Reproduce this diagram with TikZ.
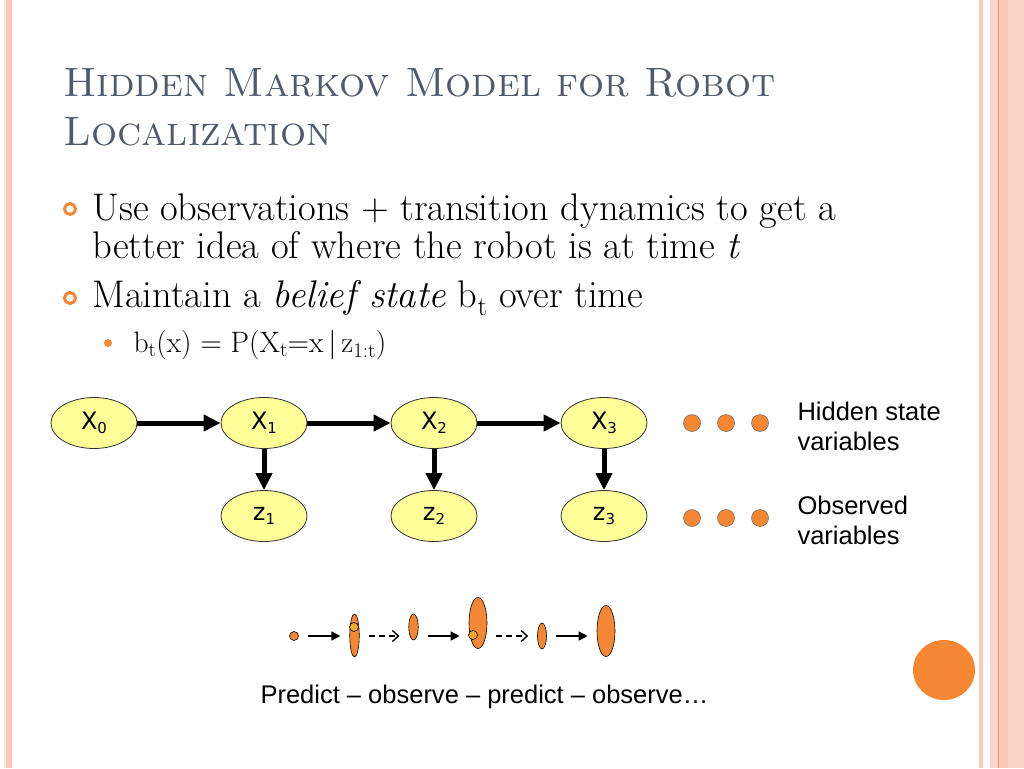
\documentclass[tikz,border=0pt]{standalone}
\usepackage{fontspec}
\newfontfamily\arial{Liberation Sans}
\newfontfamily\verd{DejaVu Sans}
\usetikzlibrary{arrows.meta,shapes.geometric,positioning}

\definecolor{titlegray}{RGB}{80,90,106}
\definecolor{dotorange}{RGB}{245,134,52}
\definecolor{nodeyellow}{RGB}{255,255,153}
\definecolor{amber}{RGB}{242,168,40}
\definecolor{stripe}{RGB}{251,201,184}
\definecolor{stripedark}{RGB}{230,150,125}

\newcommand{\lowidx}[1]{\raisebox{-0.3ex}{\fontsize{15}{15}\selectfont #1}}

\begin{document}
\begin{tikzpicture}[x=1pt,y=-1pt,>={Triangle[length=17pt,width=16pt]},
    hid/.style={ellipse,draw=black!80,fill=nodeyellow,line width=0.8pt,
      minimum width=86pt,minimum height=51pt,inner sep=0pt,
      font=\verd\fontsize{24}{24}\selectfont},
    blob/.style={circle,fill=dotorange,draw=black!60,line width=0.5pt,
      minimum size=17pt,inner sep=0pt},
    ring/.style={circle,draw=dotorange,line width=3pt,minimum size=11pt,inner sep=0pt},
    lbl/.style={anchor=base west,font=\arial\fontsize{25.5}{25.5}\selectfont},
    body/.style={anchor=base west,font=\fontsize{38.5}{38.5}\selectfont},
    belief/.style={ellipse,fill=dotorange,draw=black,line width=0.6pt,inner sep=0pt},
    guess/.style={circle,fill=amber,draw=black,line width=0.6pt,minimum size=9pt,inner sep=0pt},
    seq/.style={line width=1.4pt,shorten <=9pt,shorten >=9pt},
    node distance=170pt]

  \useasboundingbox (0,0) rectangle (1024,768);
  \fill[white] (0,0) rectangle (1024,768);

  % side stripes
  \fill[stripe!50] (4,0) rectangle (6,768);
  \fill[stripe] (6,0) rectangle (12,768);
  \fill[stripe] (979,0) rectangle (983,768);
  \fill[stripe!80] (990,0) rectangle (1024,768);
  \fill[stripe] (998,0) rectangle (1008,768);
  \draw[stripedark,line width=1pt] (998,0) -- (998,768);

  % title
  \node[anchor=base west,text=titlegray,font=\fontsize{41}{41}\selectfont\scshape] (t_1) at (60,96) {Hidden Markov Model for Robot};
  \node[anchor=base west,text=titlegray,font=\fontsize{41}{41}\selectfont\scshape] (t_2) at (60,145) {Localization};

  % bullets
  \node[ring] (r_1) at (70,209) {};
  \node[body] (u_1) at (89,220) {Use observations + transition dynamics to get a};
  \node[body] (u_2) at (89,258) {better idea of where the robot is at time \textit{t}};
  \node[ring] (r_2) at (70,298) {};
  \node[body] (m_1) at (89,307) {Maintain a \textit{belief state} b\textsubscript{t} over time};
  \node[circle,fill=dotorange,minimum size=8pt,inner sep=0pt] (s_1) at (108,343) {};
  \node[anchor=base west,font=\fontsize{29.5}{29.5}\selectfont] (f_1) at (130,352) {b\textsubscript{t}(x) = P(X\textsubscript{t}=x\,|\,z\textsubscript{1:t})};

  % the chain
  \node[hid] (x_0) at (94,423) {X\lowidx{0}};
  \node[hid] (x_1) [right of=x_0] {X\lowidx{1}};
  \node[hid] (x_2) [right of=x_1] {X\lowidx{2}};
  \node[hid] (x_3) [right of=x_2] {X\lowidx{3}};
  \node[hid] (z_1) [below of=x_1,node distance=93pt] {z\lowidx{1}};
  \node[hid] (z_2) [below of=x_2,node distance=93pt] {z\lowidx{2}};
  \node[hid] (z_3) [below of=x_3,node distance=93pt] {z\lowidx{3}};

  \path[->,line width=5pt] (x_0) edge (x_1)
      (x_1) edge (x_2)
      (x_2) edge (x_3)
      (x_1) edge (z_1)
      (x_2) edge (z_2)
      (x_3) edge (z_3);

  \node[blob] (h_1) at (692,423) {};
  \node[blob] (h_2) at (726,423) {};
  \node[blob] (h_3) at (760,423) {};
  \node[blob] (o_1) at (692,518) {};
  \node[blob] (o_2) at (726,518) {};
  \node[blob] (o_3) at (760,518) {};

  \node[lbl] (hl_1) at (794,420) {Hidden state};
  \node[lbl] (hl_2) at (794,450) {variables};
  \node[lbl] (ol_1) at (794,514) {Observed};
  \node[lbl] (ol_2) at (794,544) {variables};

  % predict / observe
  \node[circle,fill=dotorange,draw=black,line width=0.6pt,minimum size=9pt,inner sep=0pt] (c_0) at (294,636) {};
  \node[belief,minimum width=9.5pt,minimum height=43pt] (e_1) at (354.5,635.5) {};
  \node[guess] (g_1) at (354,627) {};
  \node[belief,minimum width=9.5pt,minimum height=26pt] (e_2) at (413.5,627) {};
  \node[belief,minimum width=18pt,minimum height=51pt] (e_3) at (478,623) {};
  \node[guess] (g_3) at (473,635) {};
  \node[belief,minimum width=9pt,minimum height=26pt] (e_4) at (542,636) {};
  \node[belief,minimum width=18pt,minimum height=51pt] (e_5) at (606,631) {};

  \draw[seq,-{Triangle[length=9pt,width=9pt]}] (c_0.east) -- (e_1.west |- c_0);
  \draw[seq,dash pattern=on 6pt off 4pt,-{Straight Barb[length=6pt,width=11pt]}] (e_1.east |- c_0) -- (e_2.west |- c_0);
  \draw[seq,-{Triangle[length=9pt,width=9pt]}] (e_2.east |- c_0) -- (e_3.west |- c_0);
  \draw[seq,dash pattern=on 6pt off 4pt,-{Straight Barb[length=6pt,width=11pt]}] (e_3.east |- c_0) -- (e_4.west |- c_0);
  \draw[seq,-{Triangle[length=9pt,width=9pt]}] (e_4.east |- c_0) -- (e_5.west |- c_0);

  \node[lbl] (p_1) at (257,703) {Predict – observe – predict – observe…};

  \node[ellipse,fill=dotorange,minimum width=62pt,minimum height=60pt,inner sep=0pt] (sun) at (944,670) {};
\end{tikzpicture}
\end{document}
